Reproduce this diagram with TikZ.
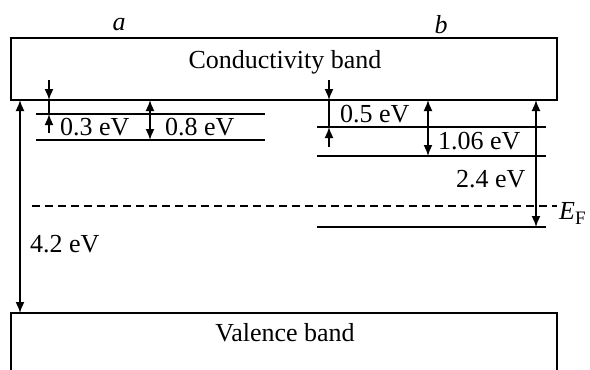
\documentclass[tikz,border=0pt]{standalone}
\usepackage{fontspec}
\setmainfont{Liberation Serif}
\usetikzlibrary{arrows.meta}
\begin{document}
\begin{tikzpicture}[x=1pt,y=-1pt,
  lbl/.style={inner sep=0pt,font=\fontsize{26}{30}\selectfont},
  band/.style={line width=2.4pt},
  lvl/.style={line width=1.6pt},
  dim/.style={line width=1.6pt},
  tip/.style={-{Latex[length=11pt,width=9pt]}},
  dtip/.style={{Latex[length=11pt,width=9pt]}-{Latex[length=11pt,width=9pt]}}]
\useasboundingbox (0,0) rectangle (590,370);
% bands
\draw[band] (11,38) rectangle (557,100);
\draw[band] (11,372) -- (11,313) -- (557,313) -- (557,372);
\node[lbl] (cb) at (285,62) {Conductivity band};
\node[lbl] (vb) at (285,333) {Valence band};
\node[lbl,font=\fontsize{26}{30}\selectfont\itshape] (la) at (119,25) {a};
\node[lbl,font=\fontsize{26}{30}\selectfont\itshape] (lb) at (441,25) {b};
% coordinates
\coordinate (cbL) at (20,100);
\coordinate (vbL) at (20,313);
\coordinate (a3t) at (49,80);
\coordinate (a3m) at (49,100);
\coordinate (a3n) at (49,114);
\coordinate (a3b) at (49,133);
\coordinate (a8t) at (150,100);
\coordinate (a8b) at (150,140);
\coordinate (b5t) at (329,80);
\coordinate (b5m) at (329,100);
\coordinate (b5n) at (329,127);
\coordinate (b5b) at (329,147);
\coordinate (b1t) at (428,100);
\coordinate (b1b) at (428,156);
\coordinate (b2t) at (536,100);
\coordinate (b2b) at (536,227);
% levels
\draw[lvl] (36,114) coordinate (a1L) -- (265,114) coordinate (a1R);
\draw[lvl] (36,140) coordinate (a2L) -- (265,140) coordinate (a2R);
\draw[lvl] (317,127) coordinate (b1L) -- (546,127) coordinate (b1R);
\draw[lvl] (317,156) coordinate (b2L) -- (546,156) coordinate (b2R);
\draw[lvl] (317,227) coordinate (b3L) -- (546,227) coordinate (b3R);
\draw[lvl,dash pattern=on 8pt off 5pt] (32,206) coordinate (efL) -- (557,206) coordinate (efR);
% arrows
\draw[dim,dtip] (cbL) -- (vbL);
\draw[dim,tip] (a3t) -- (a3m);
\draw[dim] (a3m) -- (a3n);
\draw[dim,tip] (a3b) -- (a3n);
\draw[dim,dtip] (a8t) -- (a8b);
\draw[dim,tip] (b5t) -- (b5m);
\draw[dim] (b5m) -- (b5n);
\draw[dim,tip] (b5b) -- (b5n);
\draw[dim,dtip] (b1t) -- (b1b);
\draw[dim,dtip] (b2t) -- (b2b);
% labels
\node[lbl,anchor=west] (t03) at (60,127.5) {0.3 eV};
\node[lbl,anchor=west] (t08) at (165,127.5) {0.8 eV};
\node[lbl,anchor=west] (t05) at (340,114) {0.5 eV};
\node[lbl,anchor=west] (t106) at (438,141) {1.06 eV};
\node[lbl,anchor=west] (t24) at (456,179) {2.4 eV};
\node[lbl,anchor=west] (t42) at (30,244) {4.2 eV};
\node[lbl,anchor=base west] (tef) at (559,219) {\textit{E}\raisebox{-0.22em}{\fontsize{19}{20}\selectfont F}};
\end{tikzpicture}
\end{document}
